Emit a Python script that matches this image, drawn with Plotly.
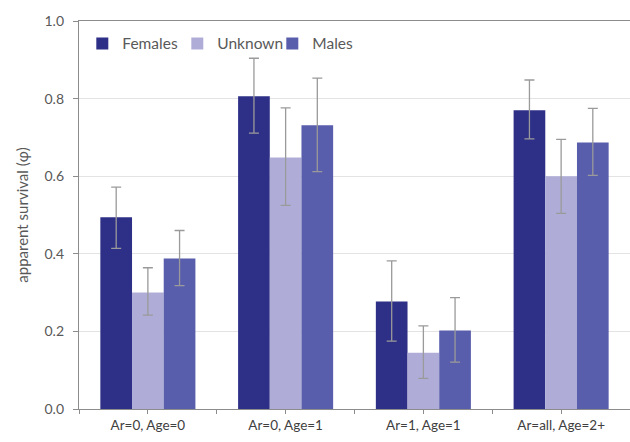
import plotly.graph_objects as go

# Groups and survival estimates with 95% confidence limits
categories = ["Ar=0, Age=0", "Ar=0, Age=1", "Ar=1, Age=1", "Ar=all, Age=2+"]
series = ["Females", "Unknown", "Males"]

females = [0.494, 0.806, 0.277, 0.770]
females_lo = [0.414, 0.711, 0.175, 0.696]
females_hi = [0.572, 0.904, 0.382, 0.848]

unknown = [0.300, 0.648, 0.145, 0.600]
unknown_lo = [0.242, 0.525, 0.079, 0.504]
unknown_hi = [0.364, 0.776, 0.214, 0.695]

males = [0.388, 0.731, 0.202, 0.687]
males_lo = [0.318, 0.612, 0.121, 0.602]
males_hi = [0.460, 0.853, 0.287, 0.775]

colors = ["#2e2f86", "#afadd7", "#585dac"]
y_ticks = [0.0, 0.2, 0.4, 0.6, 0.8, 1.0]

FONT = "Lato, 'Open Sans', sans-serif"
x_pos = list(range(len(categories)))

fig = go.Figure()
for name, vals, lo, hi, col in zip(
    series,
    [females, unknown, males],
    [females_lo, unknown_lo, males_lo],
    [females_hi, unknown_hi, males_hi],
    colors,
):
    fig.add_trace(
        go.Bar(
            name=name,
            x=x_pos,
            y=vals,
            marker=dict(color=col, line=dict(width=0)),
            error_y=dict(
                type="data",
                symmetric=False,
                array=[h - v for h, v in zip(hi, vals)],
                arrayminus=[v - l for v, l in zip(vals, lo)],
                color="#9a9a9a",
                thickness=1.3,
                width=5,
            ),
        )
    )

# ticks at group centres (labelled) and group boundaries (unlabelled)
tickvals = []
ticktext = []
for i, c in enumerate(categories):
    tickvals += [i - 0.5, i]
    ticktext += ["", c]
tickvals.append(len(categories) - 0.5)
ticktext.append("")

fig.update_layout(
    width=630,
    height=442,
    margin=dict(l=79, r=0, t=21, b=33),
    paper_bgcolor="white",
    plot_bgcolor="white",
    barmode="group",
    bargap=0.31,
    bargroupgap=0,
    font=dict(family=FONT, size=13, color="#595959"),
    showlegend=True,
    legend=dict(
        orientation="h",
        x=0.006,
        y=0.985,
        xanchor="left",
        yanchor="top",
        bgcolor="rgba(0,0,0,0)",
        font=dict(family=FONT, size=15.5, color="#595959"),
        itemwidth=30,
        entrywidth=50,
        tracegroupgap=0,
    ),
    xaxis=dict(
        range=[-0.5, len(categories) - 0.5],
        tickmode="array",
        tickvals=tickvals,
        ticktext=ticktext,
        ticks="outside",
        ticklen=4,
        tickcolor="#8c8c8c",
        showline=True,
        linecolor="#8c8c8c",
        linewidth=1.3,
        mirror=True,
        showgrid=False,
        zeroline=False,
        tickfont=dict(family=FONT, size=13.5, color="#404040"),
    ),
    yaxis=dict(
        range=[0, 1.0],
        tickmode="array",
        tickvals=y_ticks,
        ticktext=[f"{v:.1f}" for v in y_ticks],
        ticks="outside",
        ticklen=5,
        tickcolor="#8c8c8c",
        ticklabelstandoff=6,
        showline=True,
        linecolor="#8c8c8c",
        linewidth=1.3,
        showgrid=True,
        gridcolor="#e3e3e3",
        gridwidth=1,
        zeroline=False,
        tickfont=dict(family=FONT, size=14, color="#595959"),
        title=dict(
            text="apparent survival (φ)",
            font=dict(family=FONT, size=15, color="#595959"),
            standoff=12,
        ),
    ),
)

fig.write_html("out.html")
